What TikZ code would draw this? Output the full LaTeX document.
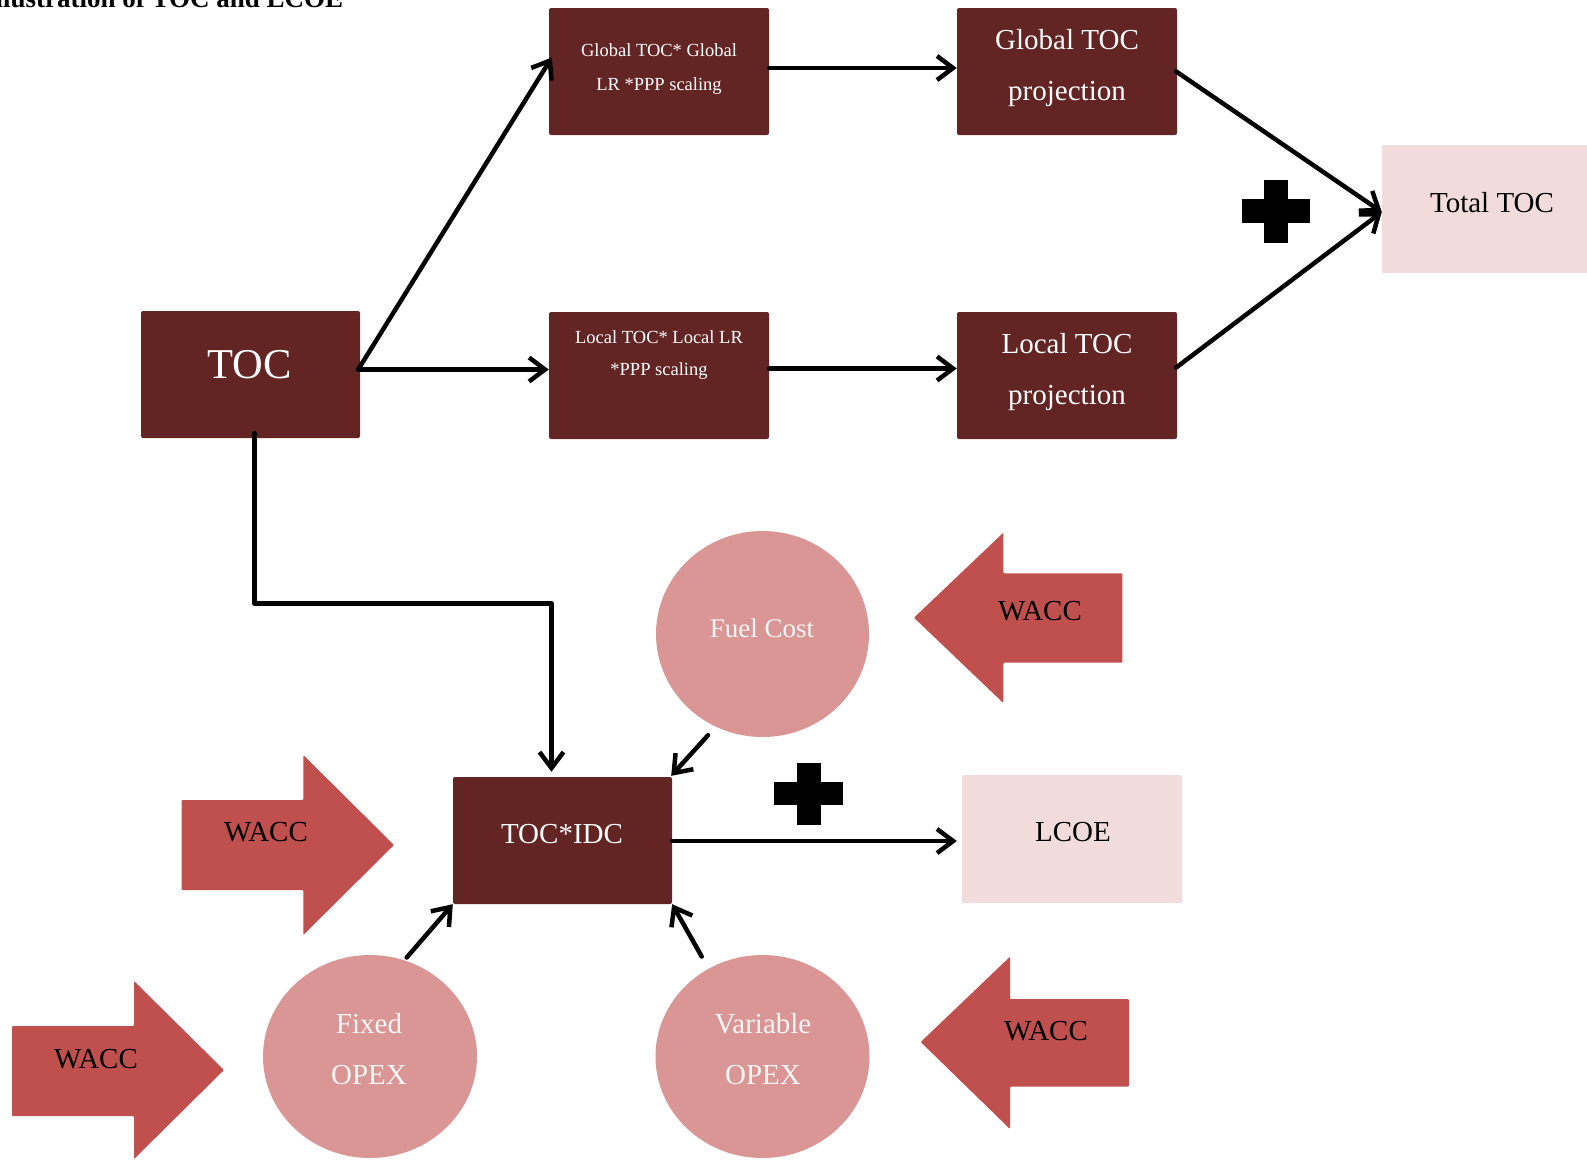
\documentclass[tikz,border=0pt]{standalone}
\usepackage{fontspec}
\setmainfont{Liberation Serif}
\usetikzlibrary{arrows.meta,calc,shapes.geometric}
\definecolor{darkred}{RGB}{99,37,35}
\definecolor{lightpink}{RGB}{242,220,219}
\definecolor{rosepink}{RGB}{217,150,148}
\definecolor{waccred}{RGB}{192,80,77}
\definecolor{offwhite}{RGB}{246,246,246}
\tikzset{
  darkbox/.style={fill=darkred, draw=none, rounded corners=2pt, minimum width=220pt, minimum height=127pt, inner sep=0pt},
  lightbox/.style={fill=lightpink, draw=none, rounded corners=1pt, minimum width=220pt, minimum height=128pt, inner sep=0pt},
  disc/.style={ellipse, fill=rosepink, draw=none, minimum width=213pt, minimum height=204pt, inner sep=0pt},
  conn/.style={line width=4.5pt, line cap=round, line join=round, -{Straight Barb[length=16pt,width=24pt]}},
  waccshape/.style={fill=waccred, draw=none, rounded corners=1pt},
  plussign/.style={fill=black, draw=none},
  bigtxt/.style={inner sep=0pt, font=\fontsize{29}{51}\selectfont},
  smalltxt/.style={inner sep=0pt, align=center, font=\fontsize{18.5}{33.5}\selectfont, text=white},
}
\begin{document}
\begin{tikzpicture}[x=1pt,y=-1pt]
\useasboundingbox (0,0) rectangle (1587,1160);
% title (cut off at the top edge, as in the reference)
\node[anchor=base west, inner sep=0pt, font=\fontsize{27}{30}\selectfont\bfseries] (title) at (-15,7) {Illustration of TOC and LCOE};

% boxes
\node[darkbox] (gtoc) at (659,71.5) {};
\node[darkbox] (gproj) at (1067,71.5) {};
\node[lightbox] (total) at (1492,209) {};
\node[darkbox, minimum width=219pt] (toc) at (250.5,374.5) {};
\node[darkbox] (ltoc) at (659,375.5) {};
\node[darkbox] (lproj) at (1067,375.5) {};
\node[darkbox, minimum width=219pt] (idc) at (562.5,840.5) {};
\node[lightbox] (lcoe) at (1072,839) {};

% circles
\node[disc, minimum height=206pt] (fuel) at (762.5,634) {};
\node[disc, minimum width=214pt, minimum height=203pt] (fixed) at (370,1056.5) {};
\node[disc, minimum width=214pt, minimum height=203pt] (var) at (762.5,1056.5) {};

% texts
\node[smalltxt] (gtocT) at (659,68.9) {Global TOC* Global\\LR *PPP scaling};
\node[smalltxt, font=\fontsize{18.5}{32}\selectfont] (ltocT) at (659,355) {Local TOC* Local LR\\*PPP scaling};
\node[bigtxt, align=center, text=white] (gprojT) at (1067,68.4) {Global TOC\\projection};
\node[bigtxt, align=center, text=white] (lprojT) at (1067,371.7) {Local TOC\\projection};
\node[bigtxt, anchor=base] (totalT) at (1492,212) {Total TOC};
\node[inner sep=0pt, anchor=base, text=white, font=\fontsize{42.5}{46}\selectfont] (tocT) at (249.5,378) {TOC};
\node[bigtxt, anchor=base, text=white] (idcT) at (562,843.6) {TOC*IDC};
\node[bigtxt, anchor=base] (lcoeT) at (1073,841.6) {LCOE};
\node[inner sep=0pt, anchor=base, text=offwhite, font=\fontsize{27}{30}\selectfont] (fuelT) at (762,637) {Fuel Cost};
\node[bigtxt, align=center, text=offwhite] (fixedT) at (369,1048.6) {Fixed\\OPEX};
\node[bigtxt, align=center, text=offwhite] (varT) at (763,1048.6) {Variable\\OPEX};

% WACC arrows
\fill[waccshape] (914,617.7) -- (1003.3,532.7) -- (1003.3,573.3) -- (1122.3,573.3) -- (1122.3,662.7) -- (1003.3,662.7) -- (1003.3,703) -- cycle;
\node[bigtxt, anchor=base] (wacc1) at (1040,620.7) {WACC};
\fill[waccshape] (181.7,800) -- (303.3,800) -- (303.3,755) -- (394,845) -- (303.3,935) -- (303.3,890) -- (181.7,890) -- cycle;
\node[bigtxt, anchor=base] (wacc2) at (266,841.7) {WACC};
\fill[waccshape] (12,1026) -- (134,1026) -- (134,981) -- (224,1070) -- (134,1159) -- (134,1116) -- (12,1116) -- cycle;
\node[bigtxt, anchor=base] (wacc3) at (96,1068) {WACC};
\fill[waccshape] (920.7,1042) -- (1010,956.7) -- (1010,999) -- (1129,999) -- (1129,1086.7) -- (1010,1086.7) -- (1010,1129) -- cycle;
\node[bigtxt, anchor=base] (wacc4) at (1046,1040) {WACC};

% plus signs
\fill[plussign] (1264,180) rectangle (1288,243);
\fill[plussign] (1242,199) rectangle (1310,223);
\fill[plussign] (797,763) rectangle (821,825);
\fill[plussign] (774,782) rectangle (843,805);

% connectors
\coordinate (tocout) at ([shift={(-2,-5)}]toc.east);
\draw[conn] (tocout) -- ([shift={(3,-14)}]gtoc.west);
\draw[conn] (tocout) -- ([shift={(0,-6)}]ltoc.west);
\draw[conn] ([shift={(0,-3.5)}]gtoc.east) -- ([shift={(0,-3.5)}]gproj.west);
\draw[conn] ([shift={(0,-7)}]ltoc.east) -- ([shift={(0,-7)}]lproj.west);
\draw[conn] ([shift={(-1,0)}]gproj.east) -- ([shift={(0,3)}]total.west);
\draw[conn] ([shift={(-1,-8)}]lproj.east) -- ([shift={(0,3)}]total.west);
\coordinate (tocdown) at ([shift={(4,-5)}]toc.south);
\coordinate (idcin) at ([shift={(-11,-5)}]idc.north);
\draw[conn] (tocdown) |- ($(idcin)+(0,-168.4)$) -- (idcin);
\draw[conn] ([shift={(-54.5,-2)}]fuel.south) -- ([shift={(-1,-1)}]idc.north east);
\draw[conn] ([shift={(36.7,2.7)}]fixed.north) -- (idc.south west);
\draw[conn] ([shift={(-60.8,1.7)}]var.north) -- (idc.south east);
\draw[conn] ([shift={(0,0.5)}]idc.east) -- ([shift={(-5,2)}]lcoe.west);
\end{tikzpicture}
\end{document}
